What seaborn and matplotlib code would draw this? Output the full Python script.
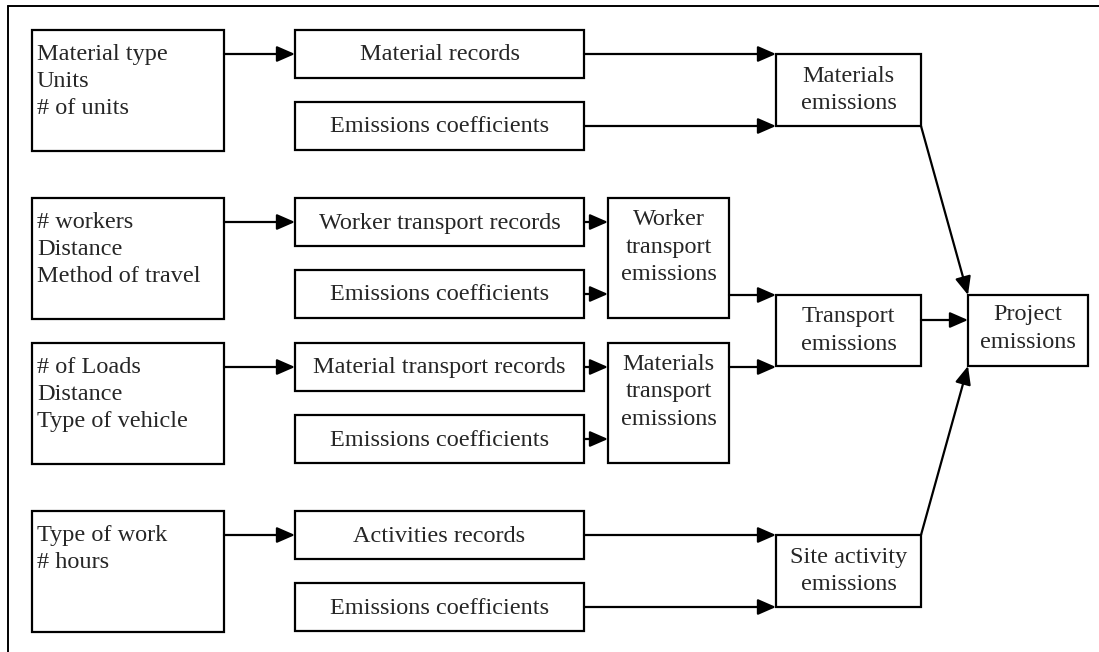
import seaborn as sns
import matplotlib.pyplot as plt
from matplotlib.patches import Rectangle, FancyArrowPatch

# Texts of the flowchart
input_labels = ["Material type\nUnits\n# of units",
                "# workers\nDistance\nMethod of travel",
                "# of Loads\nDistance\nType of vehicle",
                "Type of work\n# hours"]
record_labels = ["Material records", "Emissions coefficients",
                 "Worker transport records", "Emissions coefficients",
                 "Material transport records", "Emissions coefficients",
                 "Activities records", "Emissions coefficients"]
mid_labels = ["Worker\ntransport\nemissions", "Materials\ntransport\nemissions"]
right_labels = ["Materials\nemissions", "Transport\nemissions", "Site activity\nemissions"]
final_label = "Project\nemissions"

# Layout in pixel units (x0, y0, x1, y1), y downwards
input_tops = [30, 198, 343, 511]
record_tops = [30, 102, 198, 270, 343, 415, 511, 583]
mid_tops = [198, 343]
right_boxes = [(776, 54, 921, 126), (776, 295, 921, 366), (776, 535, 921, 607)]
final_box = (968, 295, 1088, 366)

sns.set_theme(style="white")
plt.rcParams['font.family'] = ['Liberation Serif', 'DejaVu Serif']

fig = plt.figure(figsize=(10.99, 6.52), dpi=100)
ax = fig.add_axes([0, 0, 1, 1])
ax.set_xlim(0, 1099)
ax.set_ylim(652, 0)
ax.axis('off')

lw = 1.6
fs = 17.5
ls = 1.38


def box(x0, y0, x1, y1):
    ax.add_patch(Rectangle((x0, y0), x1 - x0, y1 - y0, fill=False,
                           edgecolor='black', linewidth=lw))


def arrow(x0, y0, x1, y1):
    ax.add_patch(FancyArrowPatch((x0, y0), (x1, y1),
                                 arrowstyle='-|>,head_length=0.55,head_width=0.24',
                                 mutation_scale=20, shrinkA=0, shrinkB=0,
                                 color='black', linewidth=lw))


# outer frame (top and left edges only visible)
ax.plot([8, 1099], [6, 6], color='black', linewidth=1.4)
ax.plot([8, 8], [6, 652], color='black', linewidth=1.4)

# input boxes
for top, lab in zip(input_tops, input_labels):
    box(32, top, 224, top + 121)
    ax.text(37, top + 14, lab, ha='left', va='top', fontsize=fs,
            linespacing=ls)
    arrow(224, top + 24, 295, top + 24)

# record boxes
for top, lab in zip(record_tops, record_labels):
    box(295, top, 584, top + 48)
    ax.text(439.5, top + 25, lab, ha='center', va='center', fontsize=fs)

# middle boxes (worker / materials transport)
for top, lab in zip(mid_tops, mid_labels):
    box(608, top, 729, top + 120)
    ax.text(668.5, top + 49, lab, ha='center', va='center', fontsize=fs,
            linespacing=ls)
    arrow(584, top + 24, 608, top + 24)
    arrow(584, top + 96, 608, top + 96)

# right column boxes
for (x0, y0, x1, y1), lab in zip(right_boxes, right_labels):
    box(x0, y0, x1, y1)
    ax.text((x0 + x1) / 2, (y0 + y1) / 2, lab, ha='center', va='center',
            fontsize=fs, linespacing=ls)

# final box
x0, y0, x1, y1 = final_box
box(x0, y0, x1, y1)
ax.text((x0 + x1) / 2, (y0 + y1) / 2 - 2, final_label, ha='center',
        va='center', fontsize=fs, linespacing=ls)

# arrows into the right column
arrow(584, 54, 776, 54)
arrow(584, 126, 776, 126)
arrow(729, 295, 776, 295)
arrow(729, 367, 776, 367)
arrow(584, 535, 776, 535)
arrow(584, 607, 776, 607)

# arrows into project emissions
arrow(921, 126, 968, 295)
arrow(921, 320, 968, 320)
arrow(921, 535, 968, 366)

fig.savefig('out.png', dpi=100, facecolor='white')
